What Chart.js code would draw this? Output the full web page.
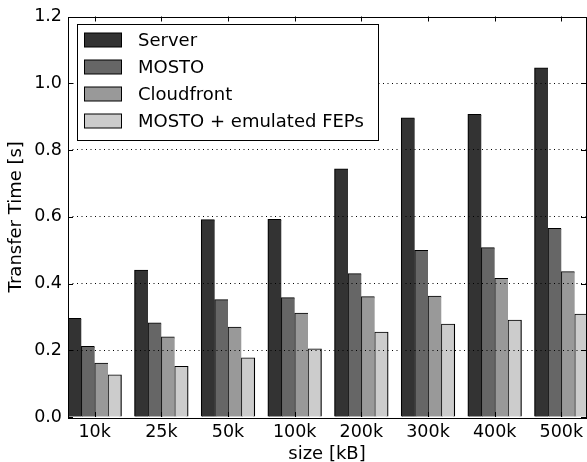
<!DOCTYPE html>
<html>
<head>
<meta charset="utf-8">
<script src="https://cdn.jsdelivr.net/npm/chart.js@4.4.1/dist/chart.umd.min.js"></script>
<style>
  html, body { margin: 0; padding: 0; background: #fff; overflow: hidden; }
  canvas { display: block; }
</style>
</head>
<body>
<canvas id="chartTransfer" width="587" height="462"></canvas>
<script>
// sizes on the x axis
const sizes = ['10k', '25k', '50k', '100k', '200k', '300k', '400k', '500k'];

// transfer times [s]
const server     = [0.295, 0.440, 0.591, 0.592, 0.743, 0.896, 0.906, 1.046];
const mosto      = [0.211, 0.282, 0.351, 0.357, 0.429, 0.499, 0.507, 0.565];
const cloudfront = [0.161, 0.240, 0.269, 0.311, 0.360, 0.362, 0.415, 0.435];
const emulated   = [0.126, 0.151, 0.177, 0.204, 0.254, 0.278, 0.290, 0.308];

const seriesNames  = ['Server', 'MOSTO', 'Cloudfront', 'MOSTO + emulated FEPs'];
const seriesColors = ['#333333', '#666666', '#999999', '#cccccc'];
const yTicks = [0, 0.2, 0.4, 0.6, 0.8, 1.0, 1.2];

Chart.defaults.font.family = "'DejaVu Sans', sans-serif";
Chart.defaults.color = '#000';

const toPoints = arr => arr.map((v, i) => ({ x: i, y: v }));

// frame + inward ticks + legend box, matplotlib style
const framePlugin = {
  id: 'frame',
  afterDraw(chart) {
    const { ctx, chartArea: a, scales: { x, y } } = chart;
    ctx.save();
    ctx.strokeStyle = '#000';
    ctx.lineWidth = 1;
    ctx.beginPath();
    const tl = 5;
    sizes.forEach((_, i) => {
      const px = Math.round(x.getPixelForValue(i)) + 0.5;
      ctx.moveTo(px, a.top); ctx.lineTo(px, a.top + tl);
      ctx.moveTo(px, a.bottom); ctx.lineTo(px, a.bottom - tl);
    });
    yTicks.forEach(v => {
      const py = Math.round(y.getPixelForValue(v)) + 0.5;
      ctx.moveTo(a.left, py); ctx.lineTo(a.left + tl, py);
      ctx.moveTo(a.right, py); ctx.lineTo(a.right - tl, py);
    });
    ctx.stroke();
    ctx.strokeRect(Math.round(a.left) + 0.5, Math.round(a.top) + 0.5,
                   Math.round(a.right - a.left), Math.round(a.bottom - a.top));

    // legend
    const bx = 77.5, by = 24.5, bw = 301, bh = 116;
    ctx.fillStyle = '#fff';
    ctx.fillRect(bx, by, bw, bh);
    ctx.strokeStyle = '#000';
    ctx.strokeRect(bx, by, bw, bh);
    ctx.font = "18px 'DejaVu Sans'";
    ctx.textBaseline = 'middle';
    chart.data.datasets.forEach((ds, i) => {
      const cy = 40 + i * 27;
      ctx.fillStyle = ds.backgroundColor;
      ctx.fillRect(84.5, cy - 7, 37, 14);
      ctx.strokeRect(84.5, cy - 7, 37, 14);
      ctx.fillStyle = '#000';
      ctx.fillText(ds.label, 138, cy + 1);
    });
    ctx.restore();
  }
};

const dataSets = [server, mosto, cloudfront, emulated].map((vals, i) => ({
  label: seriesNames[i],
  data: toPoints(vals),
  backgroundColor: seriesColors[i],
  borderColor: '#000',
  borderWidth: { top: 1, left: 1.2, right: i === 3 ? 1.2 : 0, bottom: 0 },
  borderSkipped: false,
  inflateAmount: 0.5,
  barPercentage: 1.0,
  categoryPercentage: 0.8
}));

new Chart(document.getElementById('chartTransfer'), {
  type: 'bar',
  data: { datasets: dataSets },
  options: {
    responsive: false,
    animation: false,
    devicePixelRatio: 1,
    layout: { padding: { top: 15, right: 1, left: 0, bottom: 0 } },
    plugins: { legend: { display: false }, tooltip: { enabled: false } },
    scales: {
      x: {
        type: 'linear',
        min: -0.4,
        max: 7.37,
        offset: false,
        grid: { display: false, offset: false },
        border: { display: false },
        afterBuildTicks: axis => { axis.ticks = sizes.map((_, i) => ({ value: i })); },
        afterFit: scale => { scale.height = 45; },
        ticks: {
          autoSkip: false,
          maxRotation: 0,
          padding: -3,
          font: { size: 17.5 },
          callback: v => sizes[v]
        },
        title: { display: true, text: 'size [kB]', font: { size: 18 }, padding: { top: 0, bottom: -3 } }
      },
      y: {
        min: 0,
        max: 1.2,
        afterBuildTicks: axis => { axis.ticks = yTicks.map(v => ({ value: v })); },
        afterFit: scale => { scale.width = 68; },
        grid: {
          z: 1,
          drawTicks: false,
          lineWidth: 1,
          color: c => (c.tick.value > 0.01 && c.tick.value < 1.19) ? '#000' : 'rgba(0,0,0,0)'
        },
        border: { display: false, dash: [1, 3.5] },
        ticks: {
          padding: 6,
          font: { size: 17.5 },
          callback: v => v.toFixed(1)
        },
        title: { display: true, text: 'Transfer Time [s]', font: { size: 18 }, padding: { top: 6, bottom: 0 } }
      }
    }
  },
  plugins: [framePlugin]
});
</script>
</body>
</html>
